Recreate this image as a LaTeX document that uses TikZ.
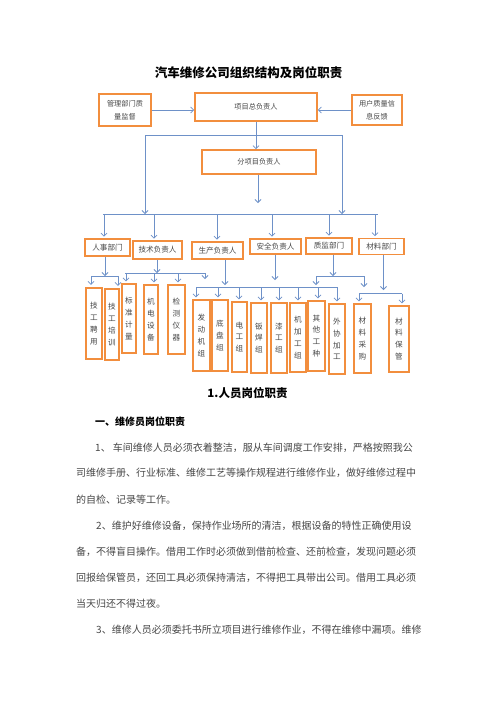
\documentclass[tikz,border=0pt]{standalone}
\usepackage{xcolor}
\usepackage{fontspec}
\setmainfont{Noto Sans CJK SC}
\usepackage{tikz}
\usetikzlibrary{arrows.meta}

\definecolor{boxorange}{RGB}{242,142,62}
\definecolor{linkblue}{RGB}{110,145,200}

\begin{document}
\begin{tikzpicture}[
    x=1pt, y=-1pt,
    box/.style={rectangle, draw=boxorange, line width=1.6pt, fill=white, inner sep=0pt, align=center, text=black!72},
    topbox/.style={box, font=\fontsize{7.2}{13}\selectfont},
    dept/.style={box, font=\fontsize{7.6}{10}\selectfont},
    unit/.style={box, font=\fontsize{7.6}{11.8}\selectfont},
    arrow/.style={-{Straight Barb[length=3pt,width=6pt]}, line width=0.8pt, draw=linkblue},
    link/.style={line width=0.8pt, draw=linkblue},
    body/.style={anchor=west, inner sep=0pt, font=\fontsize{10}{12}\selectfont, text=black!72},
]
\useasboundingbox[fill=white] (0,0) rectangle (496,702);

\node[font=\fontsize{12.5}{14}\selectfont\bfseries] (title) at (248.5,73) {汽车维修公司组织结构及岗位职责};

% top level
\node[topbox, minimum width=52pt, minimum height=32pt] (gl) at (125,110) {管理部门质\\量监督};
\node[topbox, minimum width=122pt, minimum height=28pt] (xm) at (256,107) {项目总负责人};
\node[topbox, minimum width=50pt, minimum height=30pt] (yh) at (377,110) {用户质量信\\息反馈};
\node[topbox, minimum width=114pt, minimum height=24pt] (fx) at (259,162) {分项目负责人};

% departments
\node[dept, minimum width=45pt, minimum height=17pt] (rs) at (107.5,247.5) {人事部门};
\node[dept, minimum width=49pt, minimum height=18pt] (js) at (157.5,250) {技术负责人};
\node[dept, minimum width=51pt, minimum height=17pt] (sc) at (217.5,250.5) {生产负责人};
\node[dept, minimum width=51pt, minimum height=15pt] (aq) at (275.5,246.5) {安全负责人};
\node[dept, minimum width=46pt, minimum height=16pt] (zj) at (329,246) {质监部门};
\node[dept, minimum width=45pt, minimum height=16pt] (cl) at (381.5,246.5) {材料部门};

% units
\node[unit, minimum width=16.5pt, minimum height=71.5pt] (jp) at (94,323.5) {技\\工\\聘\\用};
\node[unit, minimum width=14.5pt, minimum height=71.5pt] (jx) at (112,324.5) {技\\工\\培\\训};
\node[unit, minimum width=14.5pt, minimum height=69.5pt] (bz) at (129,318.5) {标\\准\\计\\量};
\node[unit, minimum width=14.5pt, minimum height=69.5pt] (jd) at (151,319.5) {机\\电\\设\\备};
\node[unit, minimum width=17.5pt, minimum height=69.5pt] (jc) at (176.5,319.5) {检\\测\\仪\\器};
\node[unit, minimum width=17.5pt, minimum height=71.5pt] (fd) at (201.5,335.5) {发\\动\\机\\组};
\node[unit, minimum width=16.5pt, minimum height=71.5pt] (dp) at (220,335.5) {底\\盘\\组};
\node[unit, minimum width=15.5pt, minimum height=70.5pt] (dg) at (239.5,337) {电\\工\\组};
\node[unit, minimum width=16.5pt, minimum height=70.5pt] (bh) at (259,338) {钣\\焊\\组};
\node[unit, minimum width=16.5pt, minimum height=70.5pt] (qg) at (279,338) {漆\\工\\组};
\node[unit, minimum width=16.5pt, minimum height=69.5pt] (jj) at (298,337.5) {机\\加\\工\\组};
\node[unit, minimum width=17.5pt, minimum height=70.5pt] (qt) at (316.5,336) {其\\他\\工\\种};
\node[unit, minimum width=16.5pt, minimum height=70.5pt] (wx) at (337,339) {外\\协\\加\\工};
\node[unit, minimum width=17.5pt, minimum height=69.5pt] (cg) at (362.5,338.5) {材\\料\\采\\购};
\node[unit, minimum width=20.5pt, minimum height=66.5pt] (bg) at (399,339) {材\\料\\保\\管};

% top connectors
\draw[arrow] (gl.east) -- (gl.east -| xm.west);
\draw[arrow] (yh.west) -- (yh.west -| xm.east);
\draw[arrow] (xm.south) -- (xm.south |- fx.north);
\coordinate (bar-l) at (145,135);
\coordinate (bar-r) at (342,135);
\coordinate (bus-l) at (103,214);
\coordinate (bus-r) at (378,214);
\coordinate (fx-end) at (258,203);
\draw[link] (bar-l) -- (bar-r);
\draw[arrow] (bar-l) -- (bar-l |- bus-l);
\draw[arrow] (bar-r) -- (bar-r |- bus-r);
\draw[arrow] (fx-end |- fx.south) -- (fx-end);
\draw[link] (bus-l) -- (bus-r);
\foreach \d/\x in {rs/104,js/154,sc/217,aq/272,zj/329,cl/375}{
  \coordinate (\d-in) at (\x,214);
  \draw[arrow, shorten >=1.5pt] (\d-in) -- (\d-in |- \d.north);
}

% personnel
\coordinate (rs-bus) at (105,276);
\coordinate (rs-l) at (91,276);
\coordinate (rs-r) at (118,276);
\draw[arrow] (rs-bus |- rs.south) -- (rs-bus);
\draw[link] (rs-l) -- (rs-r);
\draw[arrow, shorten >=2pt] (rs-l) -- (rs-l |- jp.north);
\draw[arrow, shorten >=2pt] (rs-r) -- (rs-r |- jx.north);

% technical
\coordinate (js-bus) at (157,273);
\coordinate (js-l) at (125,273);
\coordinate (js-r) at (205,273);
\coordinate (js-end) at (205,279);
\draw[arrow] (js-bus |- js.south) -- (js-bus);
\draw[link] (js-l) -- (js-r);
\foreach \d/\x in {bz/126,jd/154,jc/178}{
  \coordinate (\d-in) at (\x,273);
  \draw[arrow, shorten >=1.5pt] (\d-in) -- (\d-in |- \d.north);
}
\draw[arrow] (js-r) -- (js-end);

% production
\coordinate (sc-end) at (225,285);
\coordinate (sc-l) at (196,287);
\coordinate (sc-r) at (337,287);
\draw[arrow] (sc-end |- sc.south) -- (sc-end);
\draw[link] (sc-l) -- (sc-r);
\foreach \d/\x in {fd/196,dp/218,dg/239,bh/261,qg/279,jj/298,qt/318,wx/337}{
  \coordinate (\d-in) at (\x,287);
  \draw[arrow, shorten >=1.5pt] (\d-in) -- (\d-in |- \d.north);
}

% safety
\coordinate (aq-end) at (275,280);
\draw[arrow] (aq-end |- aq.south) -- (aq-end);

% quality
\coordinate (zj-bus) at (333,276);
\coordinate (zj-l) at (316,276);
\coordinate (zj-r) at (364,276);
\coordinate (zj-l-end) at (316,285);
\coordinate (zj-r-end) at (364,287);
\draw[arrow] (zj-bus |- zj.south) -- (zj-bus);
\draw[link] (zj-l) -- (zj-r);
\draw[arrow] (zj-l) -- (zj-l-end);
\draw[arrow] (zj-r) -- (zj-r-end);

% materials
\coordinate (cl-end) at (383.5,290);
\coordinate (cl-l) at (359,293.5);
\coordinate (cl-r) at (402,293.5);
\draw[arrow] (cl-end |- cl.south) -- (cl-end);
\draw[link] (cl-l) -- (cl-r);
\draw[arrow, shorten >=1.5pt] (cl-l) -- (cl-l |- cg.north);
\draw[arrow, shorten >=1.5pt] (cl-r) -- (cl-r |- bg.north);

% text below
\node[font=\fontsize{11.5}{13}\selectfont\bfseries] (sec) at (247.5,393) {1.人员岗位职责};
\node[anchor=west, inner sep=0pt, font=\fontsize{10}{12}\selectfont\bfseries] (sub) at (95,422) {一、维修员岗位职责};
\node[body] (t1) at (95,448) {1、 车间维修人员必须衣着整洁，服从车间调度工作安排，严格按照我公};
\node[body] (t2) at (76,473) {司维修手册、行业标准、维修工艺等操作规程进行维修作业，做好维修过程中};
\node[body] (t3) at (76,500) {的自检、记录等工作。};
\node[body] (t4) at (96,526) {2、维护好维修设备，保持作业场所的清洁，根据设备的特性正确使用设};
\node[body] (t5) at (76,552) {备，不得盲目操作。借用工作时必须做到借前检查、还前检查，发现问题必须};
\node[body] (t6) at (76,578) {回报给保管员，还回工具必须保持清洁，不得把工具带出公司。借用工具必须};
\node[body] (t7) at (76,604) {当天归还不得过夜。};
\node[body] (t8) at (96,630) {3、维修人员必须委托书所立项目进行维修作业，不得在维修中漏项。维修};
\end{tikzpicture}
\end{document}
